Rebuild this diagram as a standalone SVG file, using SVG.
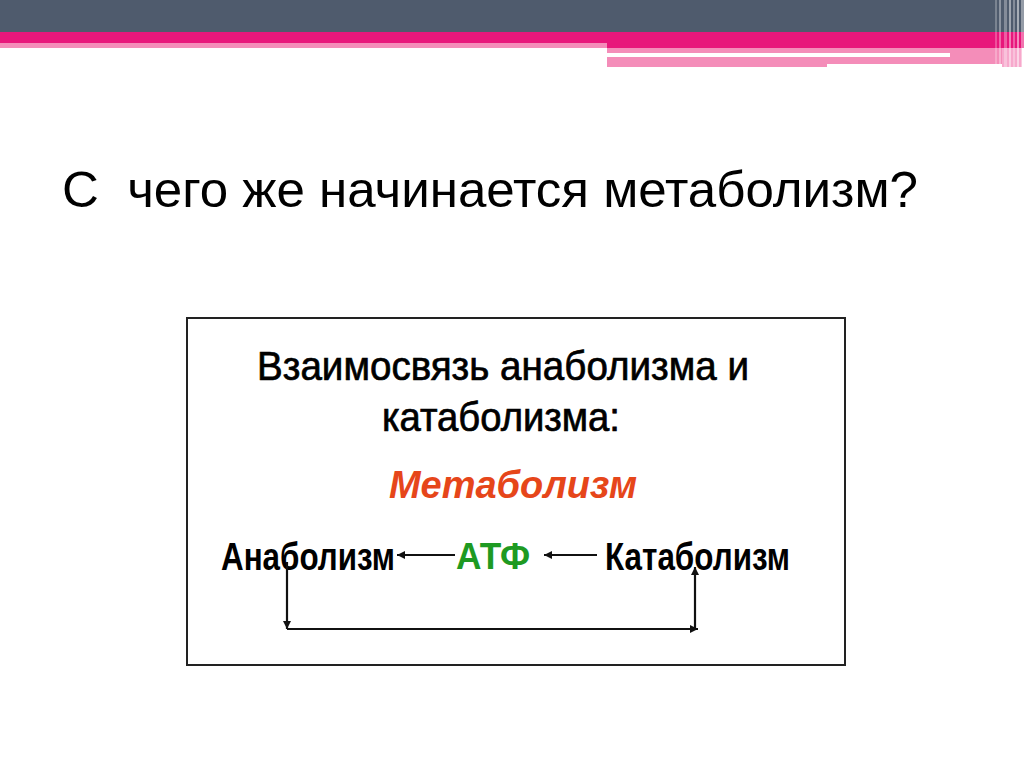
<svg xmlns="http://www.w3.org/2000/svg" width="1024" height="767" viewBox="0 0 1024 767">
<style>
.t{font-family:"Liberation Sans",Arial,sans-serif;}
.n{font-family:"Liberation Sans Narrow","Liberation Sans",Arial,sans-serif;}
.h{stroke:#000;stroke-width:0.7;}
.ln{stroke:#111;stroke-width:2.2;fill:none;}
</style>
<defs>
<marker id="ah" viewBox="0 0 10 10" refX="10" refY="5" markerWidth="10" markerHeight="8" markerUnits="userSpaceOnUse" orient="auto">
<path d="M0,0 L10,5 L0,10 Z" fill="#111"/>
</marker>
</defs>
<rect width="1024" height="767" fill="#ffffff"/>
<g id="header">
<rect x="0" y="0" width="1024" height="32" fill="#4f5b6d"/>
<rect x="0" y="32" width="1024" height="16" fill="#e8177b"/>
<rect x="0" y="43" width="607" height="5" fill="#f48db9"/>
<rect x="607" y="48" width="395" height="16" fill="#f48db9"/>
<rect x="607" y="64" width="220" height="3" fill="#f48db9"/>
<rect x="607" y="53" width="343" height="4" fill="#ffffff"/>
<rect x="1002" y="48" width="20" height="19" fill="#f7a8cc"/>
<g fill="#ffffff">
<rect x="995" y="0" width="2" height="67" opacity="0.25"/>
<rect x="999" y="0" width="2" height="67" opacity="0.35"/>
<rect x="1004" y="0" width="3" height="67" opacity="0.3"/>
<rect x="1009" y="0" width="2" height="67" opacity="0.45"/>
<rect x="1013" y="0" width="2" height="67" opacity="0.3"/>
<rect x="1017" y="0" width="2" height="67" opacity="0.5"/>
<rect x="1021" y="0" width="3" height="67" opacity="0.4"/>
</g>
</g>
<g id="title">
<text class="t" x="62" y="207" font-size="50" fill="#000" xml:space="preserve" textLength="856" lengthAdjust="spacingAndGlyphs">С  чего же начинается метаболизм?</text>
</g>
<g id="frame">
<rect x="187" y="318" width="658" height="347" fill="#fff" stroke="#222" stroke-width="2"/>
</g>
<g id="heading">
<text class="t h" x="257" y="380" font-size="40" fill="#000" textLength="492" lengthAdjust="spacingAndGlyphs">Взаимосвязь анаболизма и</text>
<text class="t h" x="382" y="431" font-size="40" fill="#000" textLength="238" lengthAdjust="spacingAndGlyphs">катаболизма:</text>
</g>
<g id="metabolism">
<text class="t" x="389" y="498" font-size="38" font-weight="bold" font-style="italic" fill="#e6461a" textLength="248" lengthAdjust="spacingAndGlyphs">Метаболизм</text>
</g>
<g id="anabolism">
<text class="n" x="221" y="570" font-size="38" font-weight="bold" fill="#000" textLength="174" lengthAdjust="spacingAndGlyphs">Анаболизм</text>
</g>
<g id="atp">
<text class="t" x="456" y="569" font-size="37" font-weight="bold" fill="#1e9a22" textLength="74" lengthAdjust="spacingAndGlyphs">АТФ</text>
</g>
<g id="catabolism">
<text class="n" x="605" y="570" font-size="38" font-weight="bold" fill="#000" textLength="185" lengthAdjust="spacingAndGlyphs">Катаболизм</text>
</g>
<g id="connectors">
<line class="ln" x1="455" y1="555" x2="397" y2="555" marker-end="url(#ah)"/>
<line class="ln" x1="597" y1="555" x2="544" y2="555" marker-end="url(#ah)"/>
<line class="ln" x1="287" y1="562" x2="287" y2="629" marker-end="url(#ah)"/>
<line class="ln" x1="287" y1="629" x2="698" y2="629" marker-end="url(#ah)"/>
<line class="ln" x1="695" y1="630" x2="695" y2="567" marker-end="url(#ah)"/>
</g>
</svg>
